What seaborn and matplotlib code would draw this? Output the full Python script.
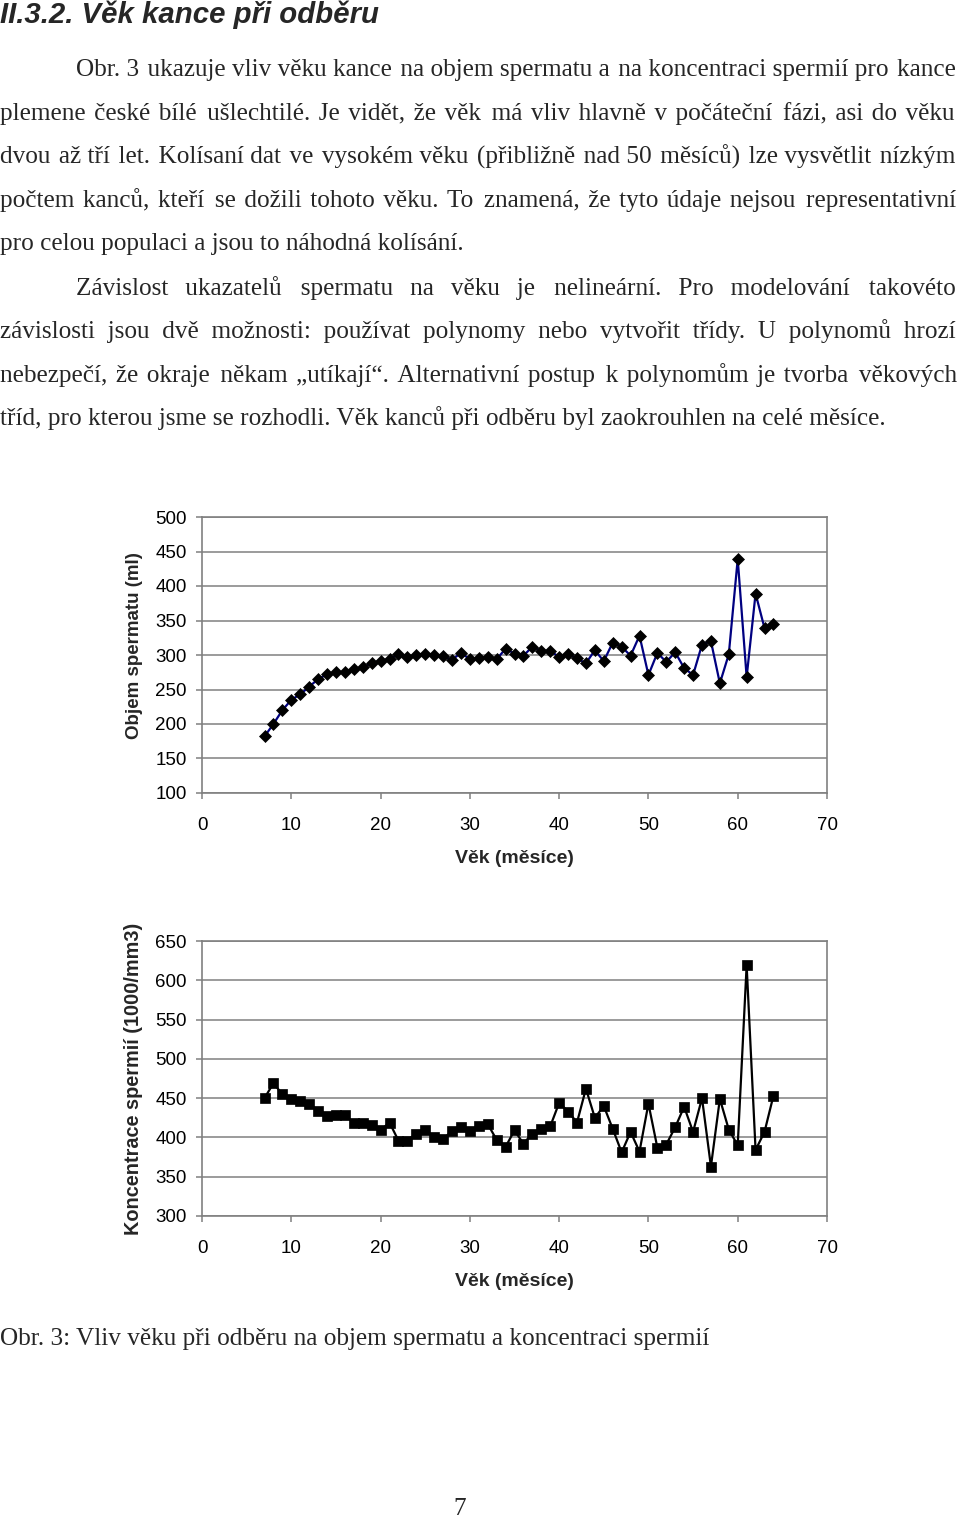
import matplotlib
matplotlib.use('Agg')
import matplotlib.pyplot as plt
import seaborn as sns
import pandas as pd

# vek kance pri odberu (mesice)
vek = [7, 8, 9, 10, 11, 12, 13, 14, 15, 16, 17, 18, 19, 20, 21, 22, 23, 24, 25,
       26, 27, 28, 29, 30, 31, 32, 33, 34, 35, 36, 37, 38, 39, 40, 41, 42, 43,
       44, 45, 46, 47, 48, 49, 50, 51, 52, 53, 54, 55, 56, 57, 58, 59, 60, 61,
       62, 63, 64]

# objem spermatu (ml)
objem = [182, 200, 220, 235, 243, 254, 265, 272, 275, 275, 279, 282, 288, 292,
         294, 301, 297, 300, 302, 300, 298, 293, 303, 294, 295, 297, 294, 309,
         302, 299, 312, 306, 306, 297, 301, 295, 288, 307, 291, 318, 312, 299,
         328, 271, 303, 290, 304, 281, 271, 315, 320, 259, 301, 439, 268, 389,
         339, 345]

# koncentrace spermii (1000/mm3)
koncentrace = [450, 469, 455, 449, 446, 443, 434, 427, 429, 429, 418, 418, 416,
               409, 419, 396, 396, 405, 410, 400, 398, 408, 413, 408, 415, 417,
               397, 388, 409, 392, 405, 411, 414, 444, 433, 419, 462, 425, 440,
               411, 381, 407, 382, 443, 387, 391, 413, 439, 407, 450, 363, 449,
               410, 390, 619, 384, 407, 453]

nadpis = 'II.3.2. Věk kance při odběru'
odstavce = [
    ('Obr. 3 ukazuje vliv věku kance na objem spermatu a na koncentraci spermií pro kance', True, True),
    ('plemene české bílé ušlechtilé. Je vidět, že věk má vliv hlavně v počáteční fázi, asi do věku', False, True),
    ('dvou až tří let. Kolísaní dat ve vysokém věku (přibližně nad 50 měsíců) lze vysvětlit nízkým', False, True),
    ('počtem kanců, kteří se dožili tohoto věku. To znamená, že tyto údaje nejsou representativní', False, True),
    ('pro celou populaci a jsou to náhodná kolísání.', False, False),
    ('Závislost ukazatelů spermatu na věku je nelineární. Pro modelování takovéto', True, True),
    ('závislosti jsou dvě možnosti: používat polynomy nebo vytvořit třídy. U polynomů hrozí', False, True),
    ('nebezpečí, že okraje někam „utíkají“. Alternativní postup k polynomům je tvorba věkových', False, True),
    ('tříd, pro kterou jsme se rozhodli. Věk kanců při odběru byl zaokrouhlen na celé měsíce.', False, False),
]
popisek = 'Obr. 3: Vliv věku při odběru na objem spermatu a koncentraci spermií'

sns.set_theme(style='white')
plt.rcParams['font.family'] = ['Liberation Sans', 'DejaVu Sans']

W, H = 960, 1519
fig = plt.figure(figsize=(W / 100, H / 100), dpi=100)
renderer = fig.canvas.get_renderer()

SERIF = ['Liberation Serif', 'DejaVu Serif']
VEL = 18.2
TENKA = '\u200a'  # hair space pro dorovnani radku


def sirka(s):
    t = fig.text(0, 0, s, fontsize=VEL, family=SERIF)
    w = t.get_window_extent(renderer).width
    t.remove()
    return w


def radek(text, y, odsazeni, zarovnat):
    """Jeden radek textu, do bloku dorovnany tenkymi mezerami"""
    x0 = 76 if odsazeni else 0
    x1 = 955
    if zarovnat:
        slova = text.split(' ')
        navic = (x1 - x0) - sirka(text)
        w_t = sirka('a' + TENKA * 10 + 'a') - sirka('aa')
        w_t = max(w_t / 10, 0.5)
        na_mezeru = navic / (len(slova) - 1) / w_t
        vysledek = slova[0]
        chyba = 0.0
        for s in slova[1:]:
            chyba += na_mezeru
            k = int(round(chyba))
            chyba -= k
            vysledek += ' ' + TENKA * max(k, 0) + s
        text = vysledek
    fig.text(x0 / W, 1 - y / H, text, fontsize=VEL, family=SERIF, va='baseline', ha='left')


fig.text(0, 1 - 15 / H, nadpis, fontsize=21.2, fontweight='bold', fontstyle='italic',
         va='center', ha='left')

radky_y = [76, 120, 164, 207, 250, 295, 338, 382, 425]
for (text, odsaz, zarov), y in zip(odstavce, radky_y):
    radek(text, y, odsaz, zarov)

fig.text(0, 1 - 1339 / H, popisek, fontsize=VEL, family=SERIF, va='center', ha='left')
fig.text(460 / W, 1 - 1509 / H, '7', fontsize=VEL, family=SERIF, va='center', ha='center')

df = pd.DataFrame({'vek': vek, 'objem': objem, 'koncentrace': koncentrace})

SEDA = '#808080'


def graf(ax, sloupec, barva, znacka, msize, ymin, ymax, ylabel, ylabel_y, ylabel_size):
    sns.lineplot(data=df, x='vek', y=sloupec, ax=ax, color=barva, linewidth=1.6,
                 marker=znacka, markersize=msize, markerfacecolor='black',
                 markeredgecolor='black', markeredgewidth=0.5)
    ax.set_xlim(0, 70)
    ax.set_ylim(ymin, ymax)
    ax.set_xticks(range(0, 71, 10))
    ax.set_yticks(range(ymin, ymax + 1, 50))
    ax.grid(True, axis='y', color=SEDA, linewidth=1.1)
    ax.set_axisbelow(True)
    for sp in ax.spines.values():
        sp.set_color(SEDA)
        sp.set_linewidth(1.2)
    ax.tick_params(axis='both', which='major', direction='out', length=4,
                   width=1.1, color=SEDA, labelsize=13.5, labelcolor='black',
                   left=True, bottom=True)
    ax.tick_params(axis='y', pad=7)
    ax.tick_params(axis='x', pad=13)
    ax.set_ylabel(ylabel, fontsize=ylabel_size, fontweight='bold')
    ax.set_xlabel('Věk (měsíce)', fontsize=14, fontweight='bold', va='top')
    ax.yaxis.set_label_coords(-0.094, ylabel_y)
    ax.xaxis.set_label_coords(0.5, -0.208)


ax1 = fig.add_axes([202 / W, 1 - 793 / H, 625 / W, 276 / H])
graf(ax1, 'objem', '#000080', 'D', 6.5, 100, 500, 'Objem spermatu (ml)', 0.535, 13.5)

ax2 = fig.add_axes([202 / W, 1 - 1216 / H, 625 / W, 275 / H])
graf(ax2, 'koncentrace', 'black', 's', 7, 300, 650, 'Koncentrace spermií (1000/mm3)', 0.5, 14.3)

fig.savefig('out.png', dpi=100)
